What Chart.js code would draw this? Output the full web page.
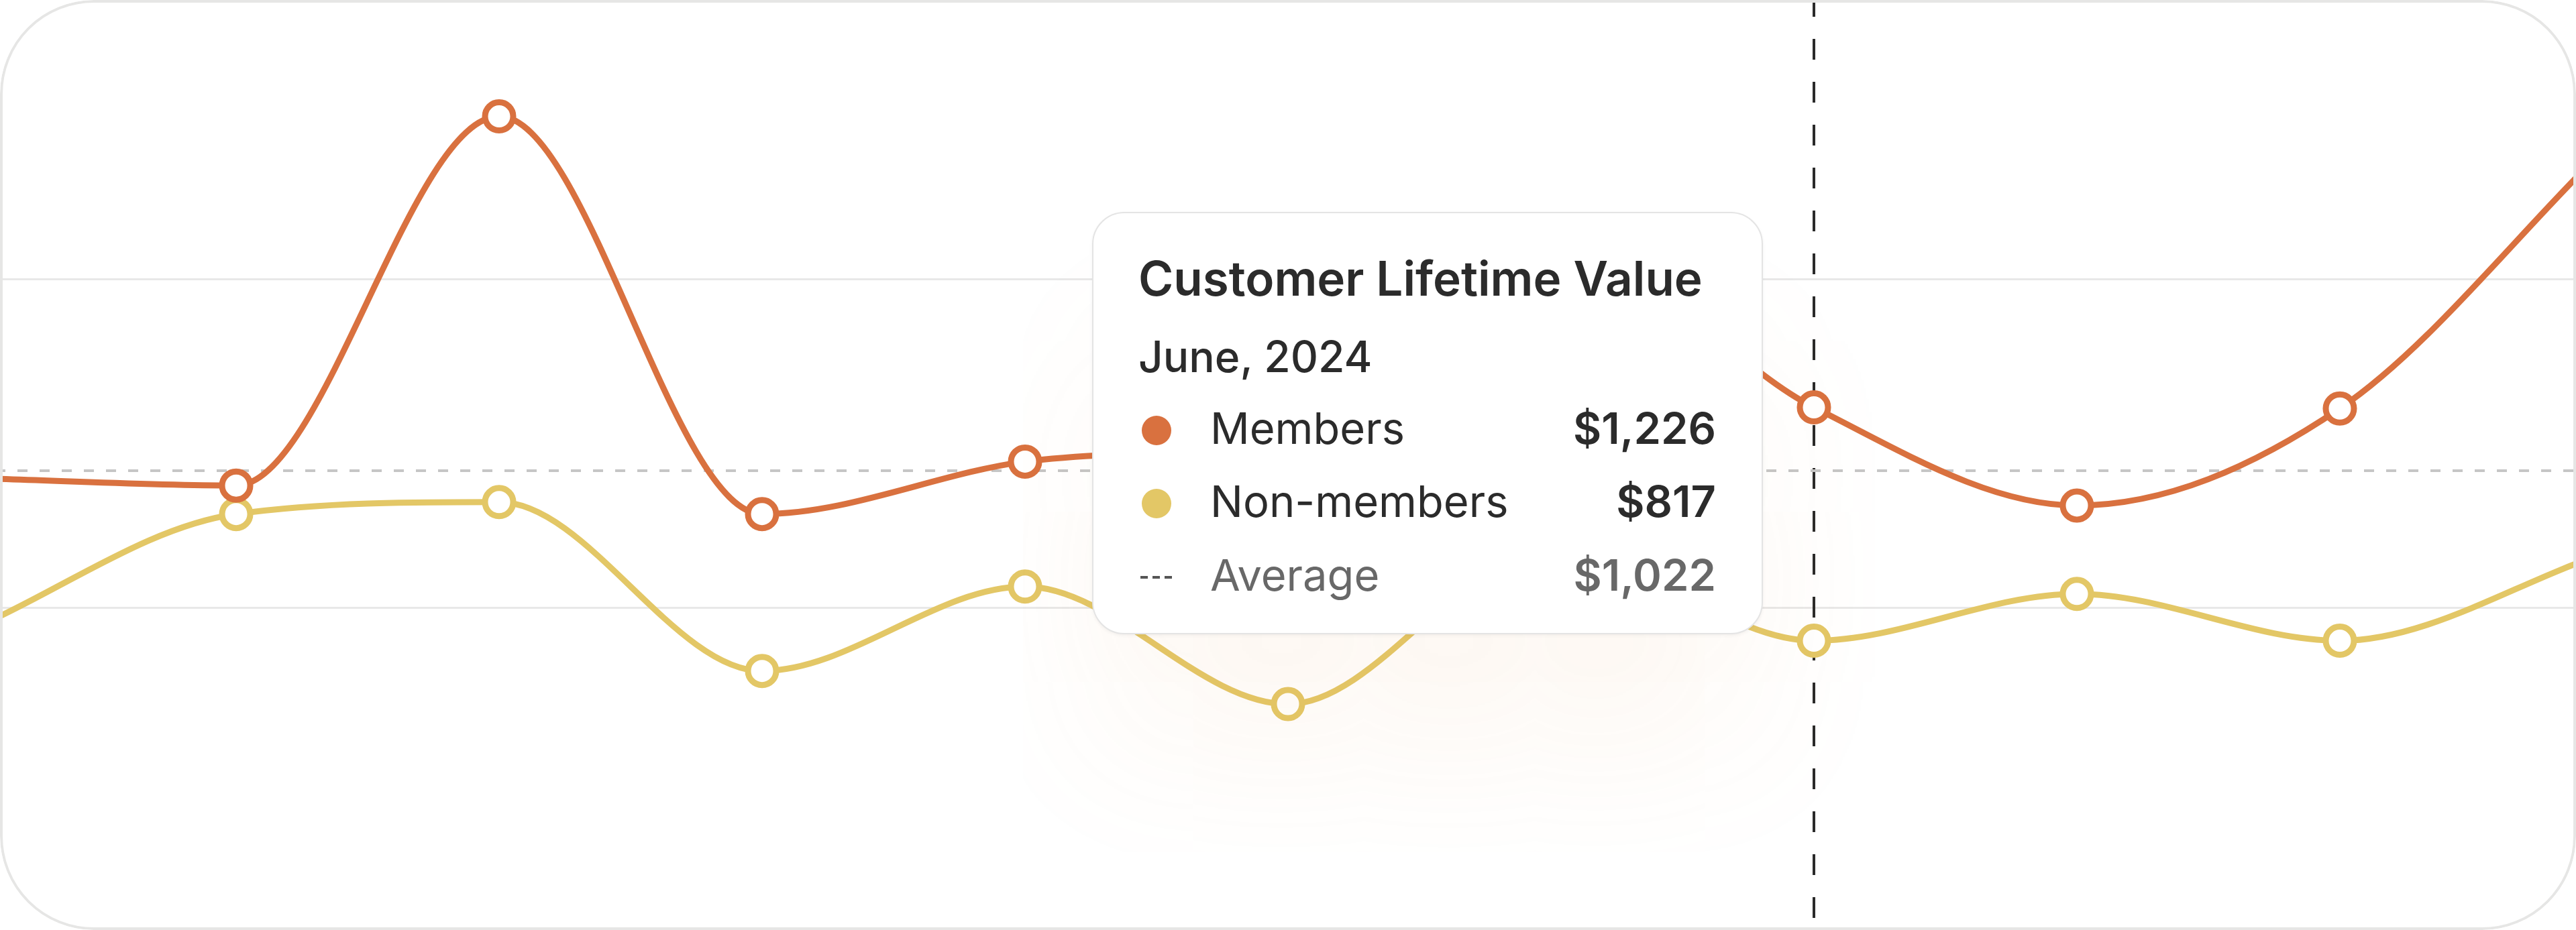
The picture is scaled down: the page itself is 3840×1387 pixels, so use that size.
<!DOCTYPE html>
<html>
<head>
<meta charset="utf-8">
<title>Customer Lifetime Value</title>
<script src="https://cdn.jsdelivr.net/npm/chart.js@4.4.1/dist/chart.umd.min.js"></script>
<style>
  html, body { margin: 0; padding: 0; background: #fff; }
  .card {
    position: relative;
    width: 3840px;
    height: 1387px;
    border-radius: 140px;
    overflow: hidden;
    background: #fff;
  }
  .card::after {
    content: "";
    position: absolute;
    inset: 0;
    border: 4px solid #e6e6e5;
    border-radius: 140px;
    pointer-events: none;
  }
  .plot { position: absolute; left: 0; top: 0; width: 3840px; height: 1387px; }
  .tip {
    position: absolute;
    box-sizing: border-box;
    width: 1000px;
    height: 630px;
    background: #fff;
    border: 2px solid #e4e4e4;
    border-radius: 48px;
    box-shadow: 0 2px 5px rgba(0, 0, 0, 0.05), 0 180px 260px -30px rgba(236, 150, 80, 0.09);
    font-family: Inter, "Noto Sans", sans-serif;
    color: #2b2b2b;
    display: none;
  }
  .tip div { position: absolute; white-space: nowrap; line-height: 1; }
  .tip .title { left: 67px; top: 62px; font-size: 71px; font-weight: 600; }
  .tip .date { left: 67px; top: 182px; font-size: 64px; font-weight: 500; }
  .tip .row { left: 0; right: 0; height: 65px; font-size: 65px; }
  .tip .row0 { top: 288px; }
  .tip .row1 { top: 397px; }
  .tip .row2 { top: 507px; color: #686868; }
  .tip .dot { left: 72px; top: 14px; width: 44px; height: 44px; border-radius: 50%; }
  .tip .dash {
    left: 70px; top: 34px; width: 47px; height: 4px;
    background: repeating-linear-gradient(90deg, #555 0 11px, transparent 11px 18px);
  }
  .tip .label { left: 174px; top: 0; }
  .tip .val { right: 68px; top: 0; font-weight: 600; }
</style>
</head>
<body>
<div class="card">
  <div class="plot"><canvas id="chart"></canvas></div>
  <div class="tip" id="tip"></div>
</div>
<script>
const chartTitle = "Customer Lifetime Value";
const months = ["November, 2023", "December, 2023", "January, 2024", "February, 2024", "March, 2024",
  "April, 2024", "May, 2024", "June, 2024", "July, 2024", "August, 2024", "September, 2024"];
const members = [1102, 1089, 1736, 1039, 1131, 1188, 1515, 1226, 1054, 1224, 1676];
const nonMembers = [838, 1039, 1060, 764, 912, 706, 979, 817, 899, 817, 969];
const overallAverage = 1115;
const gridValues = [875, 1450];
const activeMonth = "June, 2024";

const orange = "#d9713f";
const yellow = "#e3c766";

const money = (v) => "$" + Math.round(v).toLocaleString("en-US");
const points = (arr) => arr.map((v, i) => ({ x: i, y: v }));

// dashed vertical marker at the hovered month
const hoverLine = {
  id: "hoverLine",
  beforeDatasetsDraw(chart) {
    const active = chart.tooltip.getActiveElements();
    if (!active.length) return;
    const x = active[0].element.x;
    const ctx = chart.ctx;
    ctx.save();
    ctx.strokeStyle = "#2a2a2a";
    ctx.lineWidth = 4;
    ctx.setLineDash([31, 33]);
    ctx.lineDashOffset = 6;
    ctx.beginPath();
    ctx.moveTo(x, 0);
    ctx.lineTo(x, chart.height);
    ctx.stroke();
    ctx.restore();
  },
};

function htmlTooltip(context) {
  const { chart, tooltip } = context;
  const tip = document.getElementById("tip");
  if (tooltip.opacity === 0 || !tooltip.dataPoints || !tooltip.dataPoints.length) {
    tip.style.display = "none";
    return;
  }
  const pts = tooltip.dataPoints.filter((p) => p.datasetIndex < 2);
  const idx = pts[0].dataIndex;
  const avg = pts.reduce((s, p) => s + p.raw.y, 0) / pts.length;

  let html = '<div class="title">' + chartTitle + "</div>";
  html += '<div class="date">' + months[idx] + "</div>";
  pts.forEach((p, i) => {
    html += '<div class="row row' + i + '"><div class="dot" style="background:' + p.dataset.borderColor + '"></div>' +
      '<div class="label">' + p.dataset.label + '</div><div class="val">' + money(p.raw.y) + "</div></div>";
  });
  html += '<div class="row row2"><div class="dash"></div><div class="label">Average</div><div class="val">' +
    money(avg) + "</div></div>";
  tip.innerHTML = html;
  tip.style.display = "block";

  const el = pts[0].element;
  tip.style.left = (el.x - 76 - tip.offsetWidth) + "px";
  tip.style.top = (el.y - 292) + "px";
}

const ctx = document.getElementById("chart").getContext("2d");
const chart = new Chart(ctx, {
  type: "line",
  data: {
    datasets: [
      {
        label: "Members",
        data: points(members),
        borderColor: orange,
        backgroundColor: "#fff",
        borderWidth: 9,
        pointRadius: 21,
        pointBorderWidth: 9,
        pointHoverRadius: 21,
        pointHoverBorderWidth: 9,
        pointBackgroundColor: "#fff",
        cubicInterpolationMode: "monotone",
      },
      {
        label: "Non-members",
        data: points(nonMembers),
        borderColor: yellow,
        backgroundColor: "#fff",
        borderWidth: 9,
        pointRadius: 21,
        pointBorderWidth: 9,
        pointHoverRadius: 21,
        pointHoverBorderWidth: 9,
        pointBackgroundColor: "#fff",
        cubicInterpolationMode: "monotone",
      },
      {
        label: "Average",
        data: points(members.map(() => overallAverage)),
        borderColor: "#c6c6c6",
        borderWidth: 4,
        borderDash: [15, 18],
        pointRadius: 0,
        pointHoverRadius: 0,
      },
    ],
  },
  options: {
    responsive: true,
    maintainAspectRatio: false,
    animation: false,
    events: [],
    layout: { padding: 0, autoPadding: false },
    scales: {
      x: {
        type: "linear",
        min: 0.102,
        max: 9.898,
        display: false,
      },
      y: {
        min: 310,
        max: 1940,
        afterBuildTicks: (axis) => {
          axis.ticks = gridValues.map((v) => ({ value: v }));
        },
        ticks: { display: false },
        border: { display: false },
        grid: { color: "#e8e8e8", lineWidth: 3, drawTicks: false, tickLength: 0 },
      },
    },
    plugins: {
      legend: { display: false },
      tooltip: {
        enabled: false,
        mode: "index",
        intersect: false,
        external: htmlTooltip,
      },
    },
  },
  plugins: [hoverLine],
});

const ai = months.indexOf(activeMonth);
const m0 = chart.getDatasetMeta(0).data[ai];
chart.tooltip.setActiveElements(
  [{ datasetIndex: 0, index: ai }, { datasetIndex: 1, index: ai }],
  { x: m0.x, y: m0.y }
);
chart.update();
</script>
</body>
</html>
